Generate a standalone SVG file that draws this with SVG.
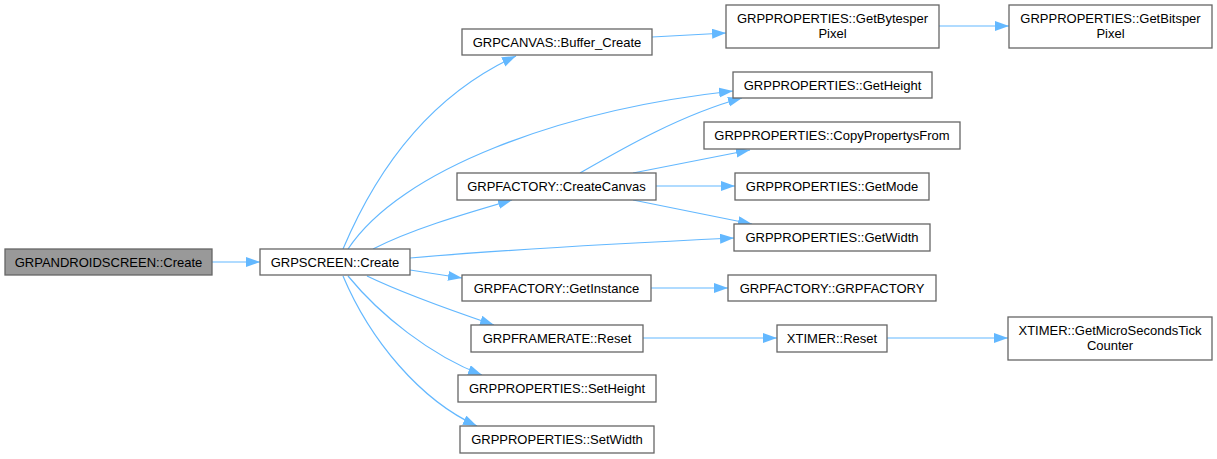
<svg xmlns="http://www.w3.org/2000/svg" width="1217" height="459" viewBox="0 0 1217 459">
<defs>
<marker id="ah" markerUnits="userSpaceOnUse" markerWidth="15" markerHeight="11" refX="14" refY="5" orient="auto">
<path d="M0,0 L14,5 L0,10 z" fill="#63b8ff"/>
</marker>
<style>
.n rect{fill:#fff;stroke:#666;stroke-width:1.3}
.n.h rect{fill:#999}
.n text{font-family:"Liberation Sans",Arial,sans-serif;font-size:13px;fill:#000;text-anchor:middle}
#edges path{fill:none;stroke:#63b8ff;stroke-width:1.2;marker-end:url(#ah)}
</style>
</defs>
<rect width="1217" height="459" fill="#fff"/>
<g id="edges">
<path d="M212,262 L260,262"/>
<path d="M343,249 C370,185 420,100 516,56"/>
<path d="M348,249 C400,170 560,110 733,91"/>
<path d="M580,173 C620,150 680,115 742,98"/>
<path d="M373,249 C410,230 460,215 512,200"/>
<path d="M410,258 C500,250 650,242 734,238"/>
<path d="M410,270 L462,278"/>
<path d="M367,276 C400,292 450,310 494,325"/>
<path d="M348,276 C380,315 430,355 482,375"/>
<path d="M343,276 C370,340 420,400 477,426"/>
<path d="M633,173 L750,150"/>
<path d="M656,186 L735,186"/>
<path d="M633,200 L752,224"/>
<path d="M652,37 L726,33"/>
<path d="M939,26 L1009,26"/>
<path d="M651,288 L728,288"/>
<path d="M643,338 L777,338"/>
<path d="M887,338 L1008,338"/>
</g>
<g id="n_android" class="n h"><rect x="5" y="249" width="207" height="26"/><text x="108.5" y="266.5">GRPANDROIDSCREEN::Create</text></g>
<g id="n_screen" class="n"><rect x="260" y="249" width="150" height="26"/><text x="335" y="266.5">GRPSCREEN::Create</text></g>
<g id="n_buffer" class="n"><rect x="462" y="29" width="190" height="26"/><text x="557" y="46.5">GRPCANVAS::Buffer_Create</text></g>
<g id="n_bytes" class="n"><rect x="726" y="5" width="213" height="43"/><text x="832.5" y="23">GRPPROPERTIES::GetBytesper</text><text x="832.5" y="38">Pixel</text></g>
<g id="n_bits" class="n"><rect x="1009" y="5" width="203" height="43"/><text x="1110.5" y="23">GRPPROPERTIES::GetBitsper</text><text x="1110.5" y="38">Pixel</text></g>
<g id="n_getheight" class="n"><rect x="733" y="72" width="199" height="26"/><text x="832.5" y="89.5">GRPPROPERTIES::GetHeight</text></g>
<g id="n_copy" class="n"><rect x="704" y="122" width="256" height="27"/><text x="832" y="140">GRPPROPERTIES::CopyPropertysFrom</text></g>
<g id="n_createcanvas" class="n"><rect x="457" y="173" width="199" height="27"/><text x="556.5" y="191">GRPFACTORY::CreateCanvas</text></g>
<g id="n_getmode" class="n"><rect x="735" y="173" width="194" height="27"/><text x="832" y="191">GRPPROPERTIES::GetMode</text></g>
<g id="n_getwidth" class="n"><rect x="734" y="224" width="196" height="27"/><text x="832" y="242">GRPPROPERTIES::GetWidth</text></g>
<g id="n_getinstance" class="n"><rect x="462" y="275" width="189" height="26"/><text x="556.5" y="292.5">GRPFACTORY::GetInstance</text></g>
<g id="n_factory" class="n"><rect x="728" y="275" width="208" height="26"/><text x="832" y="292.5">GRPFACTORY::GRPFACTORY</text></g>
<g id="n_framerate" class="n"><rect x="471" y="325" width="172" height="27"/><text x="557" y="343">GRPFRAMERATE::Reset</text></g>
<g id="n_xtimer" class="n"><rect x="777" y="325" width="110" height="27"/><text x="832" y="343">XTIMER::Reset</text></g>
<g id="n_micro" class="n"><rect x="1008" y="317" width="204" height="43"/><text x="1110" y="335">XTIMER::GetMicroSecondsTick</text><text x="1110" y="350">Counter</text></g>
<g id="n_setheight" class="n"><rect x="458" y="375" width="198" height="27"/><text x="557" y="393">GRPPROPERTIES::SetHeight</text></g>
<g id="n_setwidth" class="n"><rect x="460" y="426" width="194" height="27"/><text x="557" y="444">GRPPROPERTIES::SetWidth</text></g>
</svg>
